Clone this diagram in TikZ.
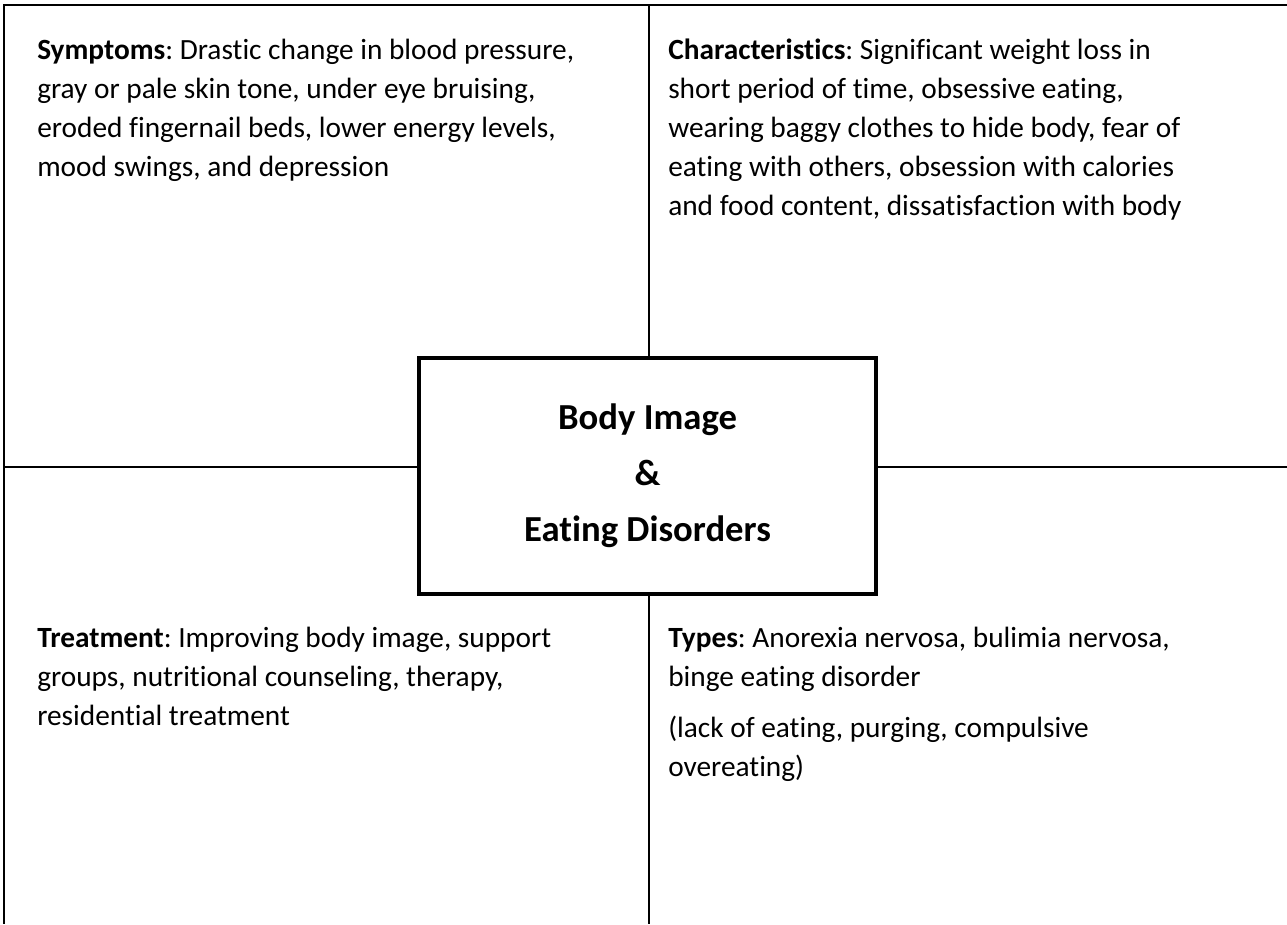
\documentclass[tikz,border=0pt]{standalone}
\usepackage{fontspec}
\setmainfont{Carlito}[Ligatures=NoCommon]
\frenchspacing
\begin{document}
\begin{tikzpicture}[x=0.75pt,y=-0.75pt,
  rule/.style={line width=1.6pt,black},
  cell/.style={anchor=north west,inner sep=0pt,align=left,
    font=\fontsize{22}{29.25}\selectfont},
  hub/.style={draw,line width=3.4pt,minimum width=457*0.75pt,minimum height=236*0.75pt,
    inner sep=0pt,align=center,font=\fontsize{27.5}{42}\selectfont\bfseries}]
  \useasboundingbox (0,0) rectangle (1287,924);
  \fill[white] (0,0) rectangle (1287,924);

  % outer frame corners and mid points
  \coordinate (tl) at (4,5);
  \coordinate (tr) at (1287,5);
  \coordinate (bl) at (4,924);
  \coordinate (ml) at (4,467);
  \coordinate (mr) at (1287,467);
  \coordinate (mt) at (649,5);
  \coordinate (mb) at (649,924);

  % central title box
  \node[hub] (hub) at (647.5,476) {Body Image\\\&\\Eating Disorders};

  % grid lines
  \draw[rule] (tr) -- (tl) -- (bl);
  \draw[rule] (ml) -- (ml -| hub.west);
  \draw[rule] (hub.east |- mr) -- (mr);
  \draw[rule] (mt) -- (mt |- hub.north);
  \draw[rule] (hub.south -| mb) -- (mb);

  % quadrant texts
  \node[cell] (symptoms) at (37,39) {\textbf{Symptoms}: Drastic change in blood pressure,\\gray or pale skin tone, under eye bruising,\\eroded fingernail beds, lower energy levels,\\mood swings, and depression};
  \node[cell] (traits) at (668,39) {\textbf{Characteristics}: Significant weight loss in\\short period of time, obsessive eating,\\wearing baggy clothes to hide body, fear of\\eating with others, obsession with calories\\and food content, dissatisfaction with body};
  \node[cell] (treatment) at (37,627) {\textbf{Treatment}: Improving body image, support\\groups, nutritional counseling, therapy,\\residential treatment};
  \node[cell] (types) at (668,627) {\textbf{Types}: Anorexia nervosa, bulimia nervosa,\\binge eating disorder\\[9pt](lack of eating, purging, compulsive\\overeating)};
\end{tikzpicture}
\end{document}
